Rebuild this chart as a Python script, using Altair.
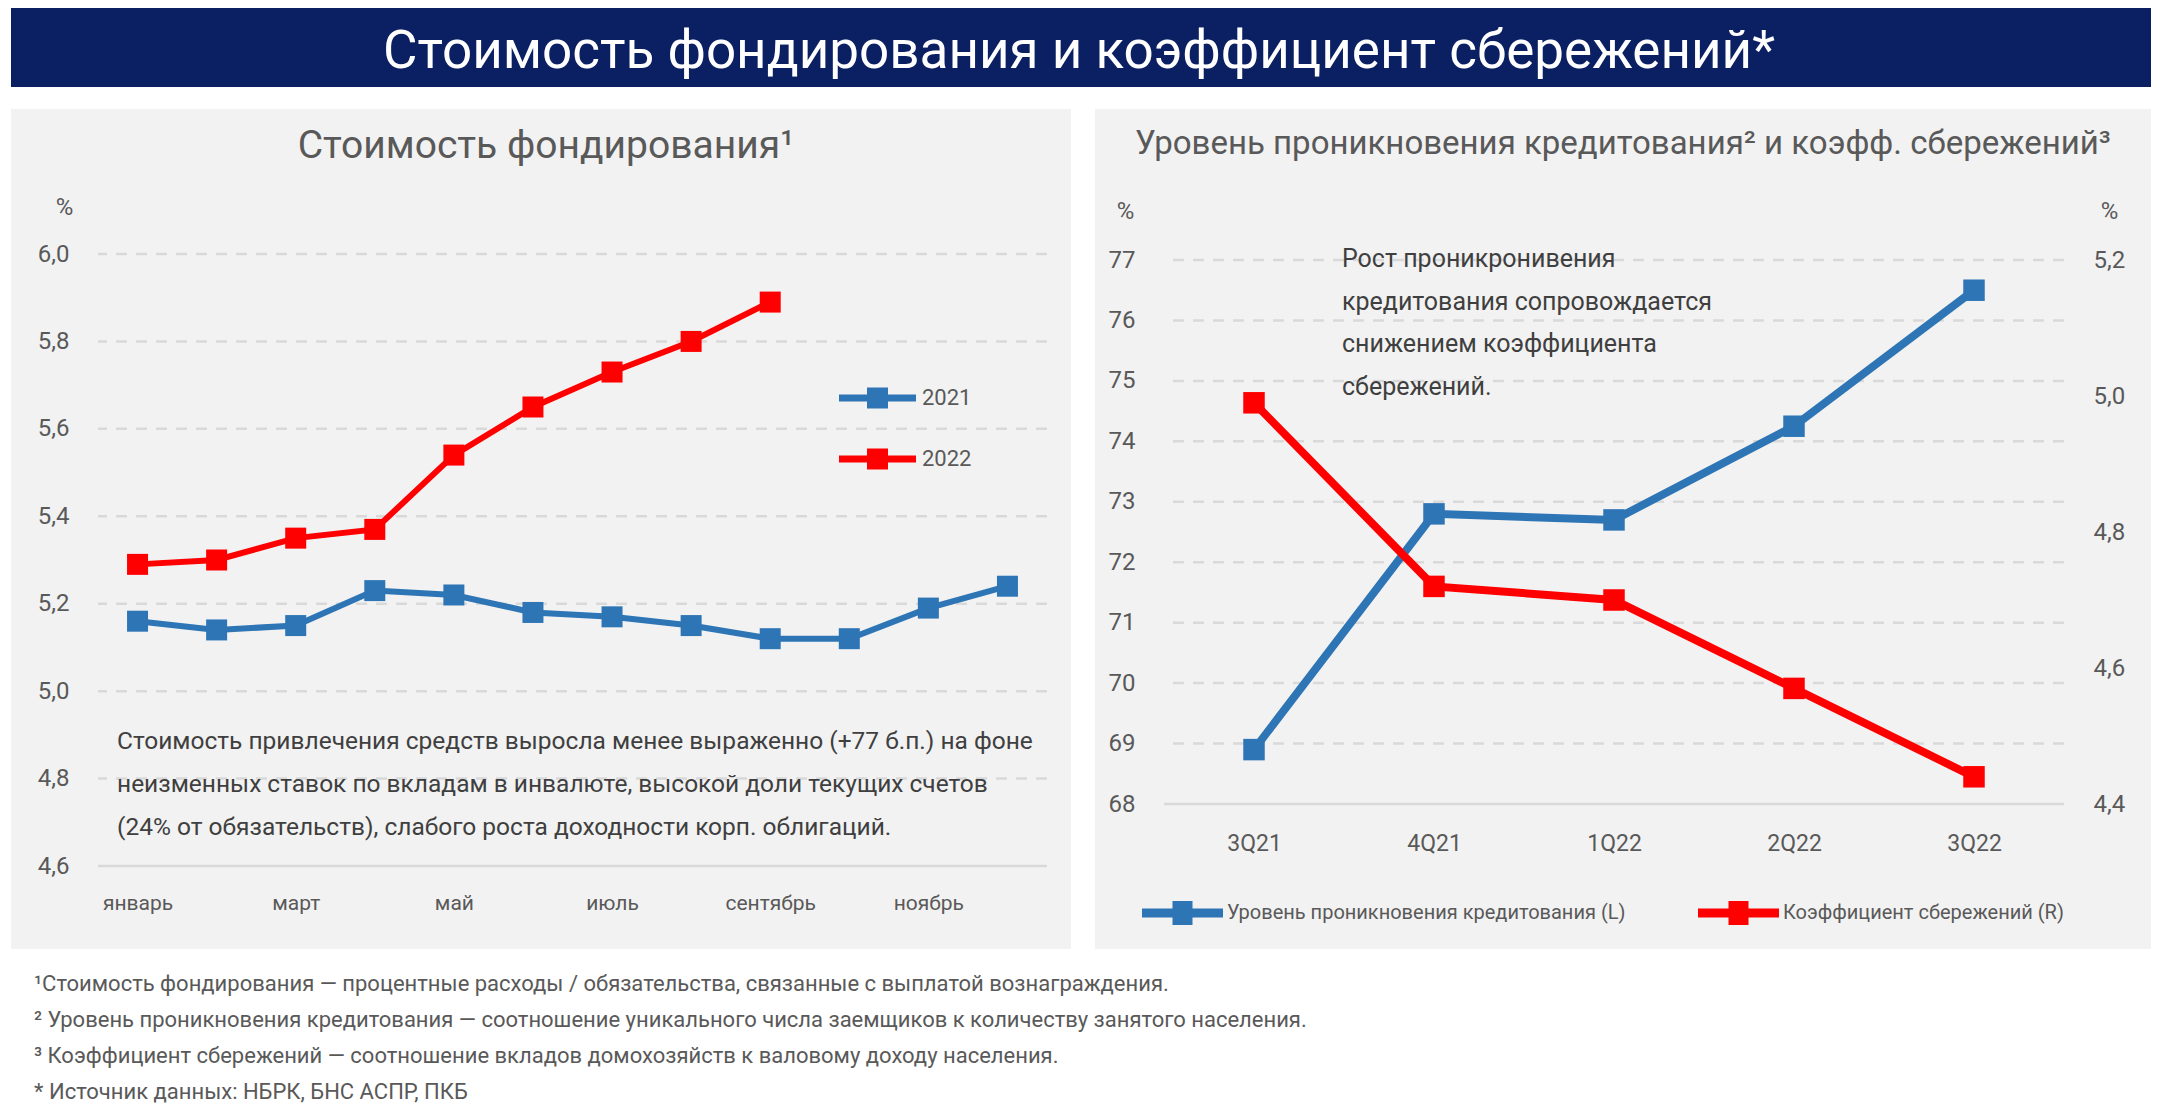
import altair as alt
import pandas as pd

FONT = "Roboto"
NAVY = "#0b2062"
PANEL = "#f2f2f2"
BLUE = "#2e75b6"
RED = "#ff0000"
GRID = "#d9d9d9"
GREY = "#595959"
DARK = "#3f3f3f"

# ---------------- texts ----------------
main_title = "Стоимость фондирования и коэффициент сбережений*"
left_title = "Стоимость фондирования¹"
right_title = "Уровень проникновения кредитования² и коэфф. сбережений³"
left_note = [
    "Стоимость привлечения средств выросла менее выраженно (+77 б.п.) на фоне",
    "неизменных ставок по вкладам в инвалюте, высокой доли текущих счетов",
    "(24% от обязательств), слабого роста доходности корп. облигаций.",
]
right_note = [
    "Рост проникронивения",
    "кредитования  сопровождается",
    "снижением коэффициента",
    "сбережений.",
]
footnotes = [
    "¹Стоимость фондирования — процентные расходы / обязательства, связанные с выплатой вознаграждения.",
    "² Уровень проникновения кредитования — соотношение уникального числа заемщиков к количеству занятого населения.",
    "³ Коэффициент сбережений — соотношение вкладов домохозяйств к валовому доходу населения.",
    "* Источник данных: НБРК, БНС АСПР, ПКБ",
]

# ---------------- data: left panel ----------------
months = ["январь", "февраль", "март", "апрель", "май", "июнь",
          "июль", "август", "сентябрь", "октябрь", "ноябрь", "декабрь"]
month_ticks = ["январь", "март", "май", "июль", "сентябрь", "ноябрь"]
years = ["2021", "2022"]
cost_2021 = [5.16, 5.14, 5.15, 5.23, 5.22, 5.18, 5.17, 5.15, 5.12, 5.12, 5.19, 5.24]
cost_2022 = [5.29, 5.30, 5.35, 5.37, 5.54, 5.65, 5.73, 5.80, 5.89]
left_ticks = [4.6, 4.8, 5.0, 5.2, 5.4, 5.6, 5.8, 6.0]

# ---------------- data: right panel ----------------
quarters = ["3Q21", "4Q21", "1Q22", "2Q22", "3Q22"]
series_names = ["Уровень проникновения кредитования (L)", "Коэффициент сбережений (R)"]
credit_penetration = [68.9, 72.8, 72.7, 74.25, 76.5]
savings_ratio = [4.99, 4.72, 4.70, 4.57, 4.44]
right_ticks_l = [68, 69, 70, 71, 72, 73, 74, 75, 76, 77]
right_ticks_r = [4.4, 4.6, 4.8, 5.0, 5.2]

# ---------------- helpers ----------------
W1, H1 = 949, 612
W2, H2 = 900, 550
FMT = "replace(format(datum.value, '.1f'), '.', ',')"
one = pd.DataFrame({"k": [0]})


def box(x, x2, y, y2, color):
    return alt.Chart(one).mark_rect(color=color).encode(
        x=alt.value(x), x2=alt.value(x2), y=alt.value(y), y2=alt.value(y2))


def label(text, x, y, size, color, align="left", lh=None):
    kw = dict(font=FONT, fontSize=size, color=color, align=align, baseline="middle")
    if lh:
        kw["lineHeight"] = lh
    return alt.Chart(one).mark_text(**kw).encode(
        x=alt.value(x), y=alt.value(y), text=alt.value(text))


PATH_L = "M-1.925,-0.175H1.925V0.175H-1.925Z M-0.525,-0.525H0.525V0.525H-0.525Z"
PATH_R = "M-2.025,-0.225H2.025V0.225H-2.025Z M-0.5,-0.6H0.5V0.6H-0.5Z"

# ---------------- left chart ----------------
left_df = pd.DataFrame({
    "month": months + months[:len(cost_2022)],
    "val": cost_2021 + cost_2022,
    "year": [years[0]] * len(cost_2021) + [years[1]] * len(cost_2022),
    "i": list(range(len(cost_2021))) + list(range(len(cost_2022))),
})

y_scale_l = alt.Scale(domain=[left_ticks[0], left_ticks[-1]], nice=False, zero=False)
axis_yl = alt.Axis(values=left_ticks, labelExpr=FMT, grid=False, domain=False,
                   ticks=False, labelPadding=29, labelFontSize=24, labelColor=GREY,
                   title="%", titleAngle=0, titleX=-34, titleY=-47,
                   titleAlign="center", titleBaseline="middle", titleFontSize=24,
                   titleFontWeight="normal", titleColor=GREY, zindex=1)
axis_xl = alt.Axis(values=month_ticks, title=None, domain=False, ticks=False,
                   labelAngle=0, labelPadding=26, labelFontSize=21,
                   labelColor=GREY, zindex=1)
x_left = alt.X("month:N", sort=months,
               scale=alt.Scale(type="point", domain=months, padding=0.5), axis=axis_xl)
y_left = alt.Y("val:Q", scale=y_scale_l, axis=axis_yl)
color_l = alt.Scale(domain=years, range=[BLUE, RED])
legend_l = alt.Legend(title=None, orient="none", legendX=759.5, legendY=124,
                      direction="vertical", symbolType=PATH_L, symbolSize=1600,
                      symbolStrokeWidth=0, symbolOpacity=1, labelFont=FONT,
                      labelFontSize=22, labelColor=GREY, labelOffset=24.5,
                      rowPadding=30, padding=0)

grid_left = alt.Chart(pd.DataFrame({"val": left_ticks[1:]})).mark_rule(
    color=GRID, strokeWidth=2.5, strokeDash=[11, 9]).encode(y=y_left)
base_left = alt.Chart(pd.DataFrame({"val": left_ticks[:1]})).mark_rule(
    color=GRID, strokeWidth=2.5).encode(y=y_left)

lines_left = alt.Chart(left_df).mark_line(strokeWidth=6).encode(
    x=x_left, y=y_left, order=alt.Order("i:Q"),
    stroke=alt.Stroke("year:N", scale=color_l, legend=legend_l))
pts_left = alt.Chart(left_df).mark_square(size=441, opacity=1, strokeWidth=0).encode(
    x=x_left, y=y_left,
    fill=alt.Fill("year:N", scale=color_l, legend=legend_l))

left = alt.layer(
    box(-87, 2053, -246, -167, NAVY),
    label(main_title, 981, -202, 53, "white", align="center"),
    box(-87, 973, -145, 695, PANEL),
    label(left_title, 448, -108, 39, GREY, align="center"),
    grid_left, base_left, lines_left, pts_left,
    label(left_note, 19, 488, 24.5, DARK, lh=43),
    label(footnotes, -64, 730, 22, GREY, lh=36),
).properties(width=W1, height=H1)

# ---------------- right chart ----------------
pen_df = pd.DataFrame({"q": quarters, "pen": credit_penetration,
                       "series": [series_names[0]] * len(quarters), "i": range(len(quarters))})
sav_df = pd.DataFrame({"q": quarters, "sav": savings_ratio,
                       "series": [series_names[1]] * len(quarters), "i": range(len(quarters))})

top_l = right_ticks_l[0] + (right_ticks_l[-1] - right_ticks_l[0]) * H2 / 544
top_r = right_ticks_r[0] + (right_ticks_r[-1] - right_ticks_r[0]) * H2 / 544
y_scale_rl = alt.Scale(domain=[right_ticks_l[0], top_l], nice=False, zero=False)
y_scale_rr = alt.Scale(domain=[right_ticks_r[0], top_r], nice=False, zero=False)

axis_xr = alt.Axis(title=None, domain=False, ticks=False, labelAngle=0,
                   labelPadding=28, labelFontSize=23, labelColor=GREY, zindex=1)
axis_pen = alt.Axis(orient="left", values=right_ticks_l, format="d", grid=False,
                    domain=False, ticks=False, labelPadding=29, labelFontSize=24,
                    labelColor=GREY, title="%", titleAngle=0, titleX=-39, titleY=-43,
                    titleAlign="center", titleBaseline="middle", titleFontSize=24,
                    titleFontWeight="normal", titleColor=GREY, zindex=1)
axis_sav = alt.Axis(orient="right", values=right_ticks_r, labelExpr=FMT, grid=False,
                    domain=False, ticks=False, labelPadding=29, labelFontSize=24,
                    labelColor=GREY, title="%", titleAngle=0, titleX=45, titleY=-43,
                    titleAlign="center", titleBaseline="middle", titleFontSize=24,
                    titleFontWeight="normal", titleColor=GREY, zindex=1)
x_right = alt.X("q:N", sort=quarters,
                scale=alt.Scale(type="point", domain=quarters, padding=0.5), axis=axis_xr)
y_pen = alt.Y("pen:Q", scale=y_scale_rl, axis=axis_pen)
y_sav = alt.Y("sav:Q", scale=y_scale_rr, axis=axis_sav)
color_r = alt.Scale(domain=series_names, range=[BLUE, RED])
legend_r = alt.Legend(title=None, orient="none", legendX=-1.5, legendY=639,
                      direction="horizontal", symbolType=PATH_R, symbolSize=1600,
                      symbolStrokeWidth=0, symbolOpacity=1, labelFont=FONT,
                      labelFontSize=20, labelColor=GREY, labelOffset=24.5, labelLimit=0,
                      columnPadding=72, padding=0)

grid_right = alt.Chart(pd.DataFrame({"pen": right_ticks_l[1:]})).mark_rule(
    color=GRID, strokeWidth=2.5, strokeDash=[11, 9]).encode(y=y_pen)
base_right = alt.Chart(pd.DataFrame({"pen": right_ticks_l[:1]})).mark_rule(
    color=GRID, strokeWidth=2.5).encode(y=y_pen)

pen_line = alt.Chart(pen_df).mark_line(strokeWidth=8).encode(
    x=x_right, y=y_pen, order=alt.Order("i:Q"),
    stroke=alt.Stroke("series:N", scale=color_r, legend=legend_r))
pen_pts = alt.Chart(pen_df).mark_square(size=462, opacity=1, strokeWidth=0).encode(
    x=x_right, y=y_pen, fill=alt.Fill("series:N", scale=color_r, legend=legend_r))
sav_line = alt.Chart(sav_df).mark_line(strokeWidth=8).encode(
    x=x_right, y=y_sav, order=alt.Order("i:Q"),
    stroke=alt.Stroke("series:N", scale=color_r, legend=legend_r))
sav_pts = alt.Chart(sav_df).mark_square(size=462, opacity=1, strokeWidth=0).encode(
    x=x_right, y=y_sav, fill=alt.Fill("series:N", scale=color_r, legend=legend_r))

right_left_layer = alt.layer(grid_right, base_right, pen_line, pen_pts)
right_right_layer = alt.layer(sav_line, sav_pts)

right = alt.layer(
    box(-69, 987, -145, 695, PANEL),
    label(right_title, 459, -110, 33, GREY, align="center"),
    right_left_layer, right_right_layer,
    label(right_note, 178, 5, 25, DARK, lh=42.5),
).resolve_scale(y="independent").properties(width=W2, height=H2)

chart = alt.hconcat(left, right, spacing=117, bounds="flush").resolve_scale(
    fill="independent", stroke="independent", x="independent", y="independent"
).resolve_legend(fill="independent", stroke="independent").properties(
    padding={"left": 3, "top": 0, "right": 0, "bottom": 0},
    background="white",
).configure_view(stroke=None).configure_axis(
    labelFont=FONT, titleFont=FONT
).configure_legend(labelFont=FONT)

chart.save("out.html", embed_options={"renderer": "svg", "actions": False})
